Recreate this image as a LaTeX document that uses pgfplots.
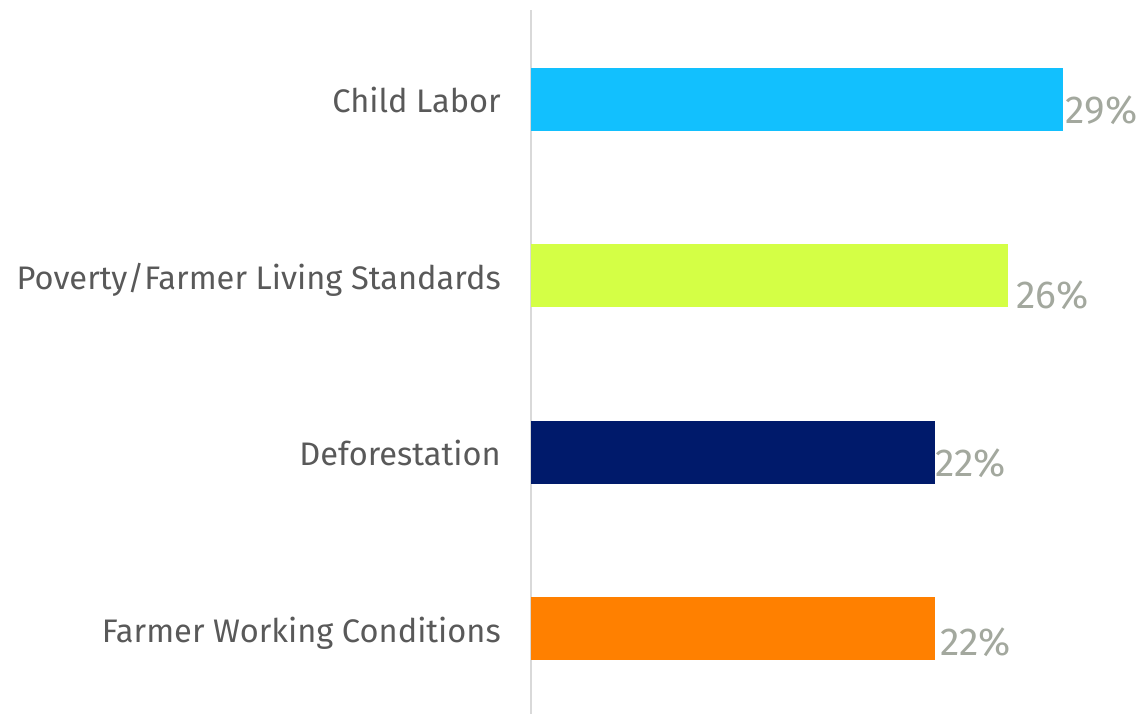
\documentclass[border=0pt]{standalone}
\usepackage{pgfplots}
\pgfplotsset{compat=1.18}
\usepackage{fontspec}
\setmainfont{Fira Sans}
\definecolor{cCyan}{HTML}{12C0FE}
\definecolor{cLime}{HTML}{D4FF45}
\definecolor{cNavy}{HTML}{001A6B}
\definecolor{cOrange}{HTML}{FF8000}
\definecolor{cText}{HTML}{595959}
\definecolor{cVal}{HTML}{A3A89E}
\definecolor{cAxis}{HTML}{D9D9D9}
\begin{document}
\begin{tikzpicture}
\useasboundingbox (-531bp,0bp) rectangle (614bp,714bp);
\begin{axis}[
  at={(0,0)}, anchor=south west,
  scale only axis,
  width=614bp, height=704bp,
  xmin=0, xmax=33.44,
  ymin=-0.507, ymax=3.482,
  y dir=reverse,
  xbar, bar width=63bp,
  axis x line=none,
  axis y line*=left,
  y axis line style={draw=cAxis, line width=2bp},
  xtick=\empty,
  ytick={0,1,2,3},
  yticklabels={Child Labor, Poverty/Farmer Living Standards, Deforestation, Farmer Working Conditions},
  major tick length=0pt,
  yticklabel style={anchor=base east, inner sep=0pt, xshift=-30bp, yshift=-13.5bp,
    font=\fontsize{32.6bp}{38bp}\selectfont, text=cText},
  /pgf/number format/assume math mode=true,
  nodes near coords={\pgfmathprintnumber{\pgfplotspointmeta}\%},
  point meta=x,
  every node near coord/.append style={anchor=base west, inner sep=0pt,
    font=\fontsize{39bp}{46bp}\selectfont, text=cVal},
]
\addplot[draw=none, fill=cCyan, bar shift=0pt,
  every node near coord/.append style={xshift=2bp, yshift=-24.5bp}]
  coordinates {(29,0)};
\addplot[draw=none, fill=cLime, bar shift=0pt,
  every node near coord/.append style={xshift=8bp, yshift=-33bp}]
  coordinates {(26,1)};
\addplot[draw=none, fill=cNavy, bar shift=0pt,
  every node near coord/.append style={xshift=0bp, yshift=-24bp}]
  coordinates {(22,2)};
\addplot[draw=none, fill=cOrange, bar shift=0pt,
  every node near coord/.append style={xshift=5bp, yshift=-27bp}]
  coordinates {(22,3)};
\end{axis}
\end{tikzpicture}
\end{document}
